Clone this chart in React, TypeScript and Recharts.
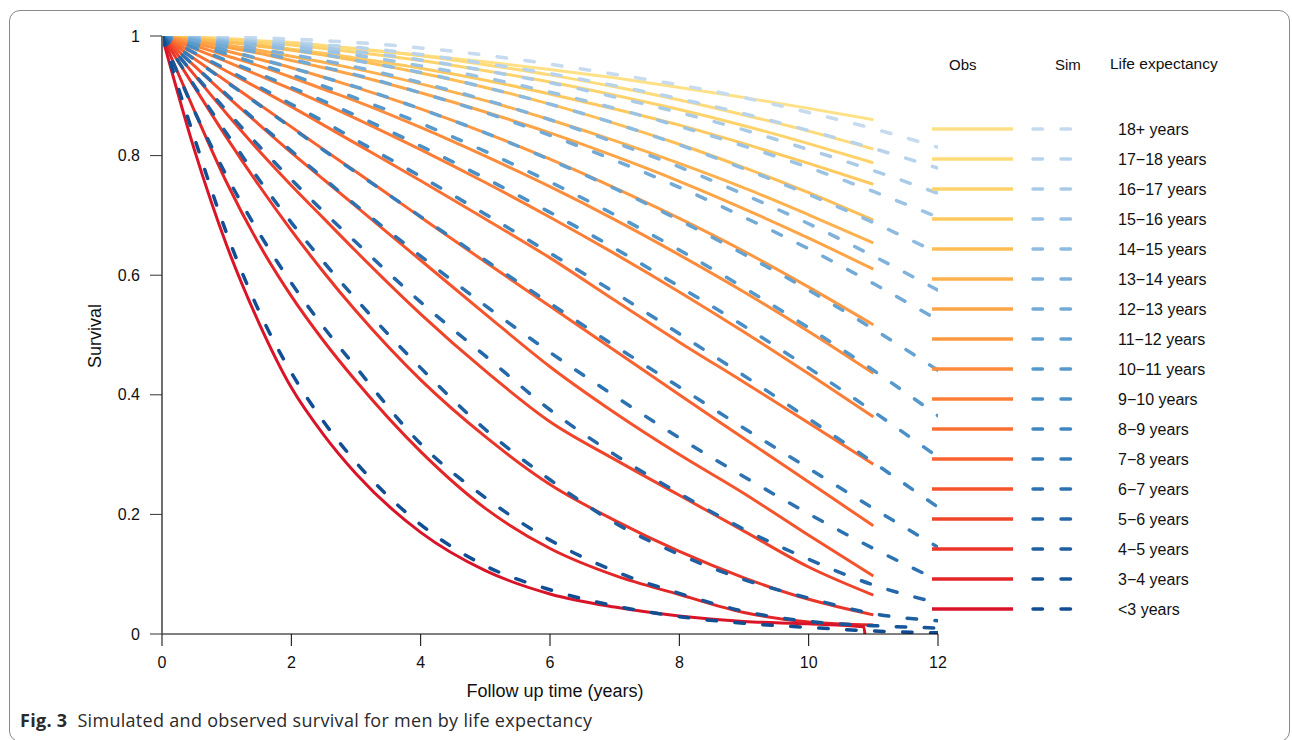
import { LineChart, Line, XAxis, YAxis, Legend } from "recharts";

// life expectancy groups, top of legend first
const groups = [
  "18+ years", "17\u221218 years", "16\u221217 years", "15\u221216 years", "14\u221215 years",
  "13\u221214 years", "12\u221213 years", "11\u221212 years", "10\u221211 years", "9\u221210 years",
  "8\u22129 years", "7\u22128 years", "6\u22127 years", "5\u22126 years", "4\u22125 years",
  "3\u22124 years", "<3 years",
];

const obsColors = [
  "#FEE187", "#FEDA78", "#FED36B", "#FEC95F", "#FEBE55", "#FDB14E", "#FDA447", "#FD9841",
  "#FC8B3B", "#FC7E36", "#FB7032", "#F9622F", "#F5532C", "#F0442A", "#EA3528", "#E32527", "#DA1428",
];
const simColors = [
  "#C6DBEF", "#B8D3EC", "#AACBE8", "#9CC3E4", "#8EBBE0", "#80B2DB", "#72AAD7", "#64A2D2",
  "#5699CD", "#4A90C7", "#3F86C0", "#357CB9", "#2C72B1", "#2468A9", "#1D5FA1", "#175699", "#104D92",
];

const xTicks = [0, 2, 4, 6, 8, 10, 12];
const yTicks = [0, 0.2, 0.4, 0.6, 0.8, 1];

const obsTimes = [0, 0.5, 1, 1.5, 2, 2.5, 3, 4, 5, 6, 7, 8, 9, 10, 11];
const obsTimesLt3 = [0, 0.5, 1, 1.5, 2, 2.5, 3, 4, 5, 6, 7, 8, 9, 10, 10.85, 10.87];
const simTimes = [0, 0.5, 1, 1.5, 2, 2.5, 3, 4, 5, 6, 7, 8, 9, 10, 11, 12];

// observed survival
const obs18plus = [1, 0.997, 0.994, 0.991, 0.987, 0.983, 0.978, 0.968, 0.957, 0.944, 0.93, 0.914, 0.897, 0.879, 0.86];
const obs17to18 = [1, 0.998, 0.996, 0.992, 0.989, 0.984, 0.979, 0.967, 0.952, 0.935, 0.915, 0.893, 0.868, 0.841, 0.811];
const obs16to17 = [1, 0.997, 0.994, 0.989, 0.985, 0.979, 0.973, 0.959, 0.942, 0.923, 0.901, 0.877, 0.85, 0.82, 0.788];
const obs15to16 = [1, 0.996, 0.99, 0.985, 0.978, 0.971, 0.963, 0.946, 0.926, 0.903, 0.878, 0.851, 0.82, 0.787, 0.752];
const obs14to15 = [1, 0.995, 0.99, 0.983, 0.976, 0.968, 0.959, 0.938, 0.914, 0.886, 0.854, 0.819, 0.78, 0.738, 0.692];
const obs13to14 = [1, 0.993, 0.985, 0.976, 0.966, 0.956, 0.945, 0.92, 0.892, 0.86, 0.825, 0.787, 0.746, 0.701, 0.654];
const obs12to13 = [1, 0.991, 0.981, 0.971, 0.959, 0.947, 0.934, 0.905, 0.873, 0.838, 0.799, 0.757, 0.711, 0.662, 0.61];
const obs11to12 = [1, 0.988, 0.975, 0.961, 0.947, 0.931, 0.914, 0.878, 0.838, 0.794, 0.746, 0.695, 0.64, 0.58, 0.517];
const obs10to11 = [1, 0.984, 0.967, 0.95, 0.931, 0.911, 0.891, 0.847, 0.799, 0.748, 0.693, 0.634, 0.572, 0.506, 0.436];
const obs9to10 = [1, 0.979, 0.957, 0.934, 0.911, 0.887, 0.862, 0.81, 0.755, 0.697, 0.636, 0.572, 0.505, 0.435, 0.363];
const obs8to9 = [1, 0.971, 0.941, 0.912, 0.882, 0.851, 0.82, 0.758, 0.694, 0.629, 0.558, 0.488, 0.421, 0.353, 0.284];
const obs7to8 = [1, 0.962, 0.924, 0.886, 0.848, 0.81, 0.773, 0.697, 0.622, 0.548, 0.474, 0.4, 0.327, 0.254, 0.181];
const obs6to7 = [1, 0.95, 0.9, 0.852, 0.805, 0.76, 0.715, 0.625, 0.535, 0.447, 0.37, 0.3, 0.235, 0.165, 0.097];
const obs5to6 = [1, 0.935, 0.87, 0.808, 0.75, 0.695, 0.64, 0.535, 0.44, 0.355, 0.292, 0.232, 0.172, 0.112, 0.065];
const obs4to5 = [1, 0.915, 0.83, 0.75, 0.675, 0.605, 0.54, 0.425, 0.33, 0.25, 0.19, 0.138, 0.094, 0.058, 0.032];
const obs3to4 = [1, 0.875, 0.755, 0.652, 0.565, 0.49, 0.423, 0.305, 0.21, 0.143, 0.098, 0.066, 0.036, 0.02, 0.015];
const obsLt3 = [1, 0.81, 0.65, 0.52, 0.412, 0.333, 0.268, 0.17, 0.106, 0.067, 0.045, 0.03, 0.021, 0.017, 0.012, 0];

// simulated survival
const sim18plus = [1, 0.999, 0.999, 0.997, 0.995, 0.992, 0.989, 0.98, 0.968, 0.953, 0.936, 0.918, 0.897, 0.872, 0.845, 0.814];
const sim17to18 = [1, 0.998, 0.996, 0.993, 0.99, 0.985, 0.981, 0.969, 0.954, 0.937, 0.917, 0.895, 0.87, 0.842, 0.812, 0.779];
const sim16to17 = [1, 0.997, 0.994, 0.99, 0.986, 0.98, 0.974, 0.96, 0.942, 0.922, 0.898, 0.872, 0.843, 0.81, 0.775, 0.737];
const sim15to16 = [1, 0.997, 0.992, 0.987, 0.982, 0.975, 0.968, 0.95, 0.93, 0.906, 0.879, 0.849, 0.816, 0.78, 0.74, 0.697];
const sim14to15 = [1, 0.996, 0.99, 0.984, 0.977, 0.969, 0.959, 0.939, 0.914, 0.886, 0.854, 0.818, 0.778, 0.735, 0.688, 0.637];
const sim13to14 = [1, 0.994, 0.987, 0.978, 0.969, 0.959, 0.948, 0.922, 0.893, 0.86, 0.822, 0.781, 0.735, 0.686, 0.632, 0.575];
const sim12to13 = [1, 0.992, 0.982, 0.972, 0.961, 0.948, 0.935, 0.905, 0.872, 0.834, 0.792, 0.747, 0.697, 0.644, 0.586, 0.525];
const sim11to12 = [1, 0.988, 0.976, 0.962, 0.947, 0.931, 0.915, 0.878, 0.838, 0.793, 0.745, 0.692, 0.635, 0.575, 0.51, 0.441];
const sim10to11 = [1, 0.985, 0.97, 0.953, 0.935, 0.916, 0.896, 0.854, 0.807, 0.756, 0.701, 0.642, 0.579, 0.512, 0.441, 0.365];
const sim9to10 = [1, 0.98, 0.959, 0.937, 0.914, 0.891, 0.867, 0.816, 0.762, 0.705, 0.645, 0.581, 0.515, 0.445, 0.372, 0.296];
const sim8to9 = [1, 0.972, 0.944, 0.915, 0.886, 0.857, 0.826, 0.765, 0.702, 0.637, 0.571, 0.502, 0.432, 0.36, 0.287, 0.212];
const sim7to8 = [1, 0.961, 0.923, 0.885, 0.847, 0.809, 0.772, 0.698, 0.625, 0.553, 0.482, 0.413, 0.344, 0.277, 0.21, 0.145];
const sim6to7 = [1, 0.95, 0.902, 0.854, 0.808, 0.762, 0.717, 0.632, 0.549, 0.471, 0.398, 0.328, 0.263, 0.201, 0.143, 0.09];
const sim5to6 = [1, 0.936, 0.875, 0.816, 0.76, 0.706, 0.655, 0.555, 0.465, 0.375, 0.3, 0.235, 0.175, 0.125, 0.082, 0.052];
const sim4to5 = [1, 0.917, 0.837, 0.76, 0.688, 0.622, 0.56, 0.445, 0.342, 0.258, 0.186, 0.133, 0.091, 0.06, 0.034, 0.022];
const sim3to4 = [1, 0.875, 0.766, 0.671, 0.587, 0.513, 0.446, 0.318, 0.228, 0.157, 0.105, 0.068, 0.038, 0.021, 0.014, 0.01];
const simLt3 = [1, 0.83, 0.67, 0.54, 0.437, 0.355, 0.287, 0.183, 0.114, 0.074, 0.047, 0.029, 0.018, 0.011, 0.005, 0.002];

const obsSeries = [
  obs18plus, obs17to18, obs16to17, obs15to16, obs14to15, obs13to14, obs12to13, obs11to12, obs10to11,
  obs9to10, obs8to9, obs7to8, obs6to7, obs5to6, obs4to5, obs3to4, obsLt3,
];
const simSeries = [
  sim18plus, sim17to18, sim16to17, sim15to16, sim14to15, sim13to14, sim12to13, sim11to12, sim10to11,
  sim9to10, sim8to9, sim7to8, sim6to7, sim5to6, sim4to5, sim3to4, simLt3,
];

const toPoints = (times: number[], vals: number[]) => times.map((t, i) => ({ t, s: vals[i] }));

const FONT = "'Liberation Sans', Arial, sans-serif";
const DASH = "9.5 18.5";

const LegendBox = () => (
  <svg width={1292} height={740} style={{ display: "block" }}>
    <text x={949} y={70} fontSize={15} fill="#111" fontFamily={FONT}>Obs</text>
    <text x={1055} y={70} fontSize={15} fill="#111" fontFamily={FONT}>Sim</text>
    <text x={1110} y={69} fontSize={15.5} fill="#111" fontFamily={FONT}>Life expectancy</text>
    {groups.map((g, i) => {
      const y = 129 + i * 30;
      return (
        <g key={g}>
          <line x1={1033} x2={1072} y1={y} y2={y} stroke={simColors[i]} strokeWidth={3.5}
            strokeDasharray={DASH} strokeLinecap="round" />
          <line x1={932} x2={1013} y1={y} y2={y} stroke={obsColors[i]} strokeWidth={3.5} />
          <text x={1118} y={y + 6} fontSize={16} fill="#111" fontFamily={FONT}>{g}</text>
        </g>
      );
    })}
  </svg>
);

export default function App() {
  return (
    <div style={{ position: "absolute", left: 0, top: 0, width: 1292, height: 740, background: "#fff", overflow: "hidden", fontFamily: FONT }}>
      <div style={{ position: "absolute", left: 9, top: 10, width: 1281, height: 732, border: "1px solid #8a8a8a", borderRadius: 11, boxSizing: "border-box" }} />
      <div style={{ position: "absolute", left: 0, top: 0 }}>
        <LineChart width={1292} height={740} margin={{ top: 36, right: 354, bottom: 66, left: 100 }}>
          <XAxis
            dataKey="t"
            type="number"
            domain={[0, 12]}
            ticks={xTicks}
            allowDataOverflow
            height={40}
            tickSize={12}
            tickMargin={11}
            stroke="#000"
            tick={{ fill: "#111", fontSize: 16, fontFamily: FONT }}
          />
          <YAxis
            type="number"
            domain={[0, 1]}
            ticks={yTicks}
            allowDataOverflow
            width={62}
            tickSize={12}
            tickMargin={10}
            axisLine={{ stroke: "#6e6e6e", strokeWidth: 2 }}
            tickLine={{ stroke: "#333" }}
            tickFormatter={(v: number) => String(v)}
            tick={{ fill: "#111", fontSize: 16, fontFamily: FONT }}
          />
          {obsSeries.map((vals, i) => (
            <Line
              key={"obs" + i}
              data={toPoints(i === obsSeries.length - 1 ? obsTimesLt3 : obsTimes, vals)}
              dataKey="s"
              type="monotone"
              stroke={obsColors[i]}
              strokeWidth={3}
              dot={false}
              activeDot={false}
              isAnimationActive={false}
            />
          ))}
          {simSeries.map((vals, i) => (
            <Line
              key={"sim" + i}
              data={toPoints(simTimes, vals)}
              dataKey="s"
              type="monotone"
              stroke={simColors[i]}
              strokeWidth={3.5}
              strokeDasharray={DASH}
              strokeLinecap="round"
              dot={false}
              activeDot={false}
              isAnimationActive={false}
            />
          ))}
          <Legend
            layout="vertical"
            align="center"
            verticalAlign="middle"
            wrapperStyle={{ position: "absolute", left: 0, top: 0, width: 1292, height: 740, pointerEvents: "none" }}
            content={() => <LegendBox />}
          />
        </LineChart>
      </div>
      <svg width={1292} height={740} style={{ position: "absolute", left: 0, top: 0, pointerEvents: "none" }}>
        <text x={555} y={697} textAnchor="middle" fontSize={18} fill="#111" fontFamily={FONT}>Follow up time (years)</text>
        <text x={101} y={336} textAnchor="middle" fontSize={18} fill="#111" fontFamily={FONT} transform="rotate(-90 101 336)">Survival</text>
      </svg>
      <div style={{ position: "absolute", left: 20, top: 708, fontSize: 18, color: "#2a2a2a", fontFamily: "'Open Sans', sans-serif", letterSpacing: 0.3, whiteSpace: "nowrap" }}>
        <span style={{ fontWeight: 700 }}>Fig. 3</span>&nbsp;&nbsp;Simulated and observed survival for men by life expectancy
      </div>
    </div>
  );
}
